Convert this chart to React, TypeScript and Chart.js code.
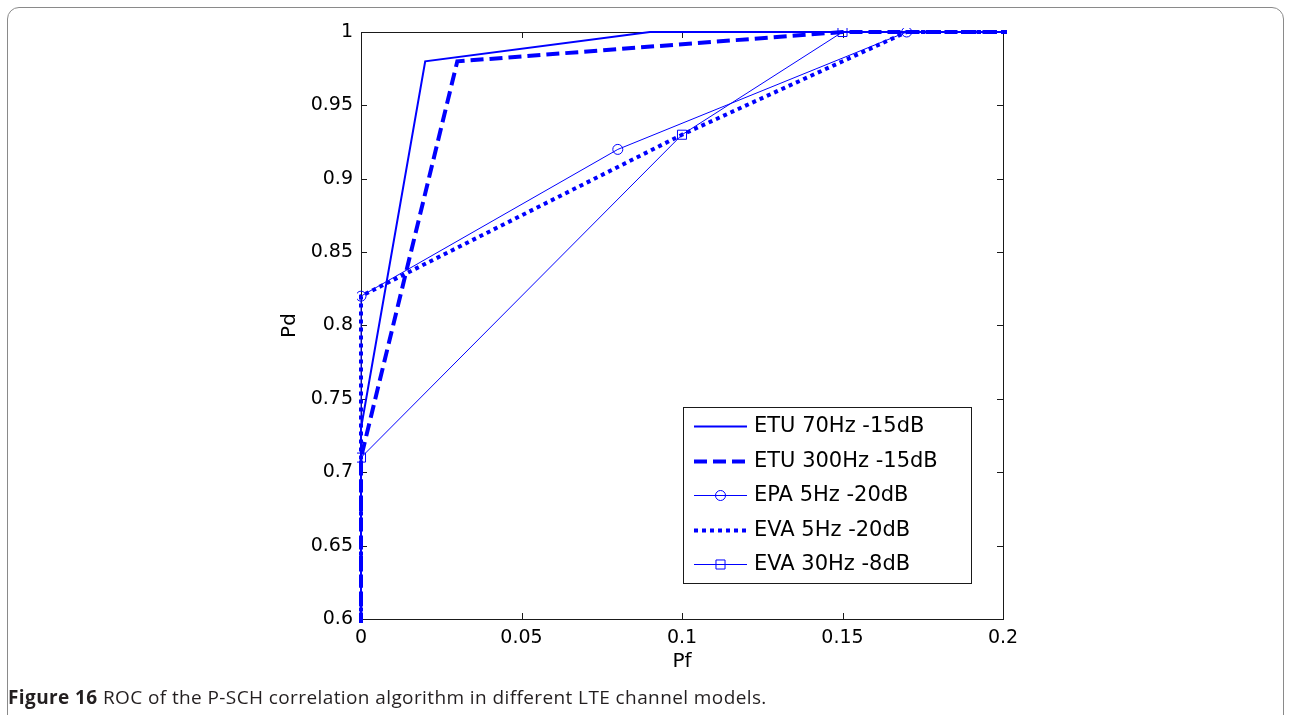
import React, { useEffect, useRef } from "react";
import { Chart, registerables } from "chart.js";

Chart.register(...registerables);

// ---- Data ----
const seriesLabels = [
  "ETU 70Hz -15dB",
  "ETU 300Hz -15dB",
  "EPA 5Hz -20dB",
  "EVA 5Hz -20dB",
  "EVA 30Hz -8dB",
];
const etu70Pf = [0, 0, 0.02, 0.09, 1];
const etu70Pd = [0, 0.73, 0.98, 1, 1];
const etu300Pf = [0, 0, 0.03, 0.15, 1];
const etu300Pd = [0, 0.71, 0.98, 1, 1];
const epa5Pf = [0, 0, 0.08, 0.17, 1];
const epa5Pd = [0, 0.82, 0.92, 1, 1];
const eva5Pf = [0, 0, 0.1, 0.17, 1];
const eva5Pd = [0, 0.82, 0.93, 1, 1];
const eva30Pf = [0, 0, 0.1, 0.15, 1];
const eva30Pd = [0, 0.71, 0.93, 1, 1];
const xTicks = [0, 0.05, 0.1, 0.15, 0.2];
const yTicks = [0.6, 0.65, 0.7, 0.75, 0.8, 0.85, 0.9, 0.95, 1];

const BLUE = "#0000ff";
const FONT = "'DejaVu Sans', sans-serif";

const toPts = (xs: number[], ys: number[]) => xs.map((x, i) => ({ x, y: ys[i] }));

const inwardTicksPlugin = {
  id: "inwardTicks",
  beforeDatasetsDraw(chart: any) {
    const { ctx, chartArea: a, scales } = chart;
    ctx.save();
    ctx.strokeStyle = "#1a1a1a";
    ctx.lineWidth = 1;
    ctx.strokeRect(a.left + 0.5, a.top + 0.5, a.right - a.left, a.bottom - a.top);
    const L = 6;
    ctx.beginPath();
    xTicks.forEach((v) => {
      const px = Math.round(scales.x.getPixelForValue(v)) + 0.5;
      ctx.moveTo(px, a.bottom);
      ctx.lineTo(px, a.bottom - L);
      ctx.moveTo(px, a.top);
      ctx.lineTo(px, a.top + L);
    });
    yTicks.forEach((v) => {
      const py = Math.round(scales.y.getPixelForValue(v)) + 0.5;
      ctx.moveTo(a.left, py);
      ctx.lineTo(a.left + L, py);
      ctx.moveTo(a.right, py);
      ctx.lineTo(a.right - L, py);
    });
    ctx.stroke();
    ctx.restore();
  },
};

const legendPlugin = {
  id: "customLegend",
  afterDraw(chart: any) {
    const { ctx } = chart;
    const left = 683, top = 407, w = 288, h = 176;
    ctx.save();
    ctx.fillStyle = "#ffffff";
    ctx.fillRect(left, top, w, h);
    ctx.strokeStyle = "#1a1a1a";
    ctx.lineWidth = 1;
    ctx.strokeRect(left + 0.5, top + 0.5, w, h);
    const rowH = 34.5;
    const x0 = 694, x1 = 747;
    chart.data.datasets.forEach((ds: any, i: number) => {
      const cy = Math.round(top + 19 + i * rowH) + 0.5;
      ctx.save();
      ctx.strokeStyle = ds.borderColor;
      ctx.lineWidth = ds.borderWidth;
      ctx.setLineDash(ds.borderDash || []);
      ctx.beginPath();
      ctx.moveTo(x0, cy);
      ctx.lineTo(x1, cy);
      ctx.stroke();
      ctx.setLineDash([]);
      const r = Array.isArray(ds.pointRadius) ? ds.pointRadius[1] : ds.pointRadius;
      if (r > 0) {
        ctx.lineWidth = 1;
        ctx.strokeStyle = BLUE;
        const cx = (x0 + x1) / 2;
        ctx.beginPath();
        if (ds.pointStyle === "rect") {
          const s = Math.SQRT1_2 * r;
          ctx.rect(cx - s, cy - s, 2 * s, 2 * s);
        } else {
          ctx.arc(cx, cy, r, 0, Math.PI * 2);
        }
        ctx.stroke();
      }
      ctx.restore();
      ctx.fillStyle = "#000000";
      ctx.font = "21px " + FONT;
      ctx.textBaseline = "middle";
      ctx.textAlign = "left";
      ctx.fillText(ds.label, 754, cy);
    });
    ctx.restore();
  },
};

export default function App() {
  const ref = useRef<HTMLCanvasElement | null>(null);

  useEffect(() => {
    if (!ref.current) return;
    const common = { showLine: true, borderColor: BLUE, clip: 4, tension: 0 };
    const chart = new Chart(ref.current, {
      type: "scatter",
      data: {
        datasets: [
          { ...common, label: seriesLabels[0], data: toPts(etu70Pf, etu70Pd), borderWidth: 2, pointRadius: 0 },
          { ...common, label: seriesLabels[1], data: toPts(etu300Pf, etu300Pd), borderWidth: 4, borderDash: [13, 6], pointRadius: 0 },
          {
            ...common, label: seriesLabels[2], data: toPts(epa5Pf, epa5Pd), borderWidth: 1,
            pointRadius: 5, pointStyle: "circle", pointBorderColor: BLUE, pointBackgroundColor: "rgba(0,0,0,0)", pointBorderWidth: 1,
          },
          { ...common, label: seriesLabels[3], data: toPts(eva5Pf, eva5Pd), borderWidth: 4, borderDash: [4, 4], pointRadius: 0 },
          {
            ...common, label: seriesLabels[4], data: toPts(eva30Pf, eva30Pd), borderWidth: 1,
            pointRadius: 6.4, pointStyle: "rect", pointBorderColor: BLUE, pointBackgroundColor: "rgba(0,0,0,0)", pointBorderWidth: 1,
          },
        ] as any,
      },
      options: {
        animation: false,
        responsive: false,
        events: [],
        layout: { padding: { left: 278, top: 32, right: 287, bottom: 41 } },
        plugins: { legend: { display: false }, tooltip: { enabled: false } },
        scales: {
          x: {
            type: "linear",
            min: 0,
            max: 0.2,
            afterFit: (s: any) => { s.height = 55; },
            afterBuildTicks: (s: any) => { s.ticks = xTicks.map((v) => ({ value: v })); },
            grid: { display: false, drawTicks: false },
            border: { display: false },
            ticks: {
              padding: 8,
              color: "#000",
              font: { family: FONT, size: 19 },
              callback: (v: any) => String(Number(Number(v).toFixed(2))),
            },
            title: { display: true, text: "Pf", color: "#000", font: { family: FONT, size: 20 }, padding: 0 },
          },
          y: {
            type: "linear",
            min: 0.6,
            max: 1,
            afterFit: (s: any) => { s.width = 83; },
            afterBuildTicks: (s: any) => { s.ticks = yTicks.map((v) => ({ value: v })); },
            grid: { display: false, drawTicks: false },
            border: { display: false },
            ticks: {
              padding: 8,
              color: "#000",
              font: { family: FONT, size: 19 },
              callback: (v: any) => String(Number(Number(v).toFixed(2))),
            },
            title: { display: true, text: "Pd", color: "#000", font: { family: FONT, size: 20 }, padding: 0 },
          },
        },
      } as any,
      plugins: [inwardTicksPlugin, legendPlugin],
    });
    return () => chart.destroy();
  }, []);

  return (
    <div>
      <div
        style={{
          position: "fixed",
          left: 7,
          top: 7,
          width: 1277,
          height: 720,
          border: "1px solid #8a8a8a",
          borderRadius: 12,
          boxSizing: "border-box",
        }}
      />
      <canvas
        ref={ref}
        width={1290}
        height={715}
        style={{ position: "fixed", left: 0, top: 0, width: 1290, height: 715 }}
      />
      <div
        style={{
          position: "fixed",
          left: 8,
          top: 685,
          fontFamily: "'Open Sans', sans-serif",
          fontSize: 19,
          letterSpacing: "0.4px",
          lineHeight: "24px",
          color: "#231f20",
          whiteSpace: "nowrap",
        }}
      >
        <b>Figure 16</b> ROC of the P-SCH correlation algorithm in different LTE channel models.
      </div>
    </div>
  );
}
